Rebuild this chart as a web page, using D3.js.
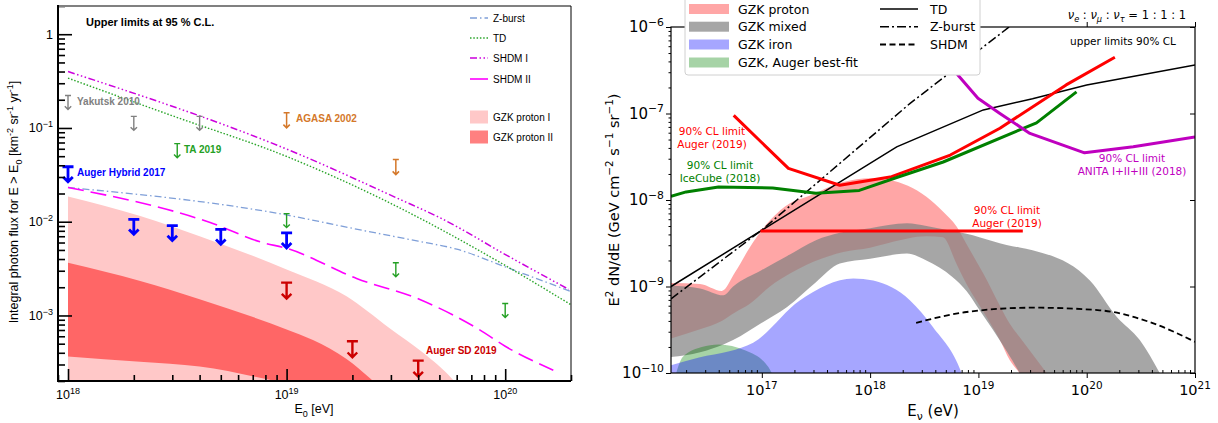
<!DOCTYPE html>
<html><head><meta charset="utf-8">
<script src="https://cdn.jsdelivr.net/npm/d3@7"></script>
<style>body{margin:0;background:#fff}svg{display:block}</style>
</head><body>
<svg id="c" width="1218" height="423"></svg>
<script>
// ================= LEFT PANEL DATA (integral photon flux) =================
const zburstE = [1e18, 1e19, 2e19, 4e19, 6e19, 1e20, 2e20];
const zburstF = [0.0232, 0.0118, 0.0085, 0.0062, 0.0051, 0.0033, 0.0018];
const tdE = [1e18, 3e18, 1e19, 2.75e19, 1.05e20, 2e20];
const tdF = [0.34, 0.135, 0.0497, 0.0173, 0.0032, 0.0013];
const shdm1E = [1e18, 1.15e19, 3.3e19, 5e19, 1.05e20, 1.95e20];
const shdm1F = [0.40, 0.052, 0.0173, 0.0111, 0.0042, 0.0019];
const shdm2E = [1e18, 4.47e18, 7.76e18, 1e19, 2.09e19, 4.07e19, 7.59e19, 1e20, 1.66e20];
const shdm2F = [0.0232, 0.0098, 0.0060, 0.0052, 0.00248, 0.00148, 0.00071, 0.00047, 0.00026];
const gzkP1E = [1e18, 2.14e18, 4e18, 1e19, 1.88e19, 2.95e19, 4.17e19, 5.75e19, 6.3e19];
const gzkP1Hi = [0.0186, 0.0115, 0.0070, 0.0031, 0.0016, 7.35e-4, 4.07e-4, 2.07e-4, 1.6e-4];
const gzkP2E = [1e18, 2.14e18, 4e18, 1e19, 1.32e19, 1.88e19, 2.4e19, 2.7e19];
const gzkP2Hi = [0.00365, 0.00233, 0.00149, 7.1e-4, 5.47e-4, 3.43e-4, 2.15e-4, 1.68e-4];
const gzkP2Lo = [3.66e-4, 3.2e-4, 2.85e-4, 1.9e-4, 1.7e-4, 1.4e-4, 1.2e-4, 1.1e-4];
// upper limits
const yakutskE = [1e18, 2e18, 4e18];       const yakutskF = [0.222, 0.133, 0.133];
const agasaE = [1e19, 3.16e19];            const agasaF = [0.145, 0.046];
const taE = [3.16e18, 1e19, 3.16e19, 1e20]; const taF = [0.068, 0.0122, 0.00365, 0.00134];
const hybE = [1e18, 2e18, 3e18, 5e18, 1e19]; const hybF = [0.0386, 0.0106, 0.0091, 0.0083, 0.0076];
const sdE = [1e19, 2e19, 4e19];            const sdF = [0.00224, 5.3e-4, 3.3e-4];
const leftXTicks = [1e18, 1e19, 1e20];
const leftXTickLabels = [["10","18"], ["10","19"], ["10","20"]];
const leftYTicks = [1e-3, 1e-2, 1e-1, 1];
const leftYTickLabels = [["10","−3"], ["10","−2"], ["10","−1"], ["1",""]];

// ================= RIGHT PANEL DATA (neutrino E^2 dN/dE) =================
const protonE  = [1.45e16, 2.69e16, 4.27e16, 5.66e16, 7.76e16, 1.19e17, 1.82e17, 2.6e17, 5.66e17, 1e18, 1.51e18, 3.31e18, 4.68e18, 6.31e18, 7.76e18, 1.11e19, 1.58e19, 1.95e19, 2.4e19, 4.27e19];
const protonHi = [1.10e-9, 1.07e-9, 8.9e-10, 1.46e-9, 2.84e-9, 5.83e-9, 9.2e-9, 1.09e-8, 1.62e-8, 1.79e-8, 1.70e-8, 1.09e-8, 7.4e-9, 4.9e-9, 3.1e-9, 1.41e-9, 6.0e-10, 3.7e-10, 2.6e-10, 1.0e-10];
const protonLo = [2.5e-10, 3.2e-10, 4.0e-10, 5.0e-10, 6.3e-10, 1.0e-9, 1.41e-9, 1.78e-9, 2.5e-9, 2.8e-9, 3.2e-9, 3.8e-9, 3.7e-9, 1.8e-9, 1.07e-9, 5.1e-10, 2.4e-10, 1.4e-10, 1.0e-10, 3.2e-11];
const mixedE  = [1.45e16, 2.69e16, 4.42e16, 5.43e16, 1e17, 1.70e17, 3.16e17, 5.25e17, 1e18, 2.19e18, 3.31e18, 5.75e18, 7.76e18, 1.02e19, 1.82e19, 2.4e19, 3.16e19, 1.07e20, 1.88e20, 3.09e20, 4.72e20];
const mixedHi = [1.02e-9, 9.5e-10, 7.9e-10, 1.0e-9, 1.55e-9, 2.24e-9, 3.43e-9, 4.17e-9, 4.72e-9, 5.37e-9, 5.0e-9, 4.37e-9, 4.07e-9, 3.72e-9, 3.02e-9, 2.82e-9, 2.63e-9, 1.17e-9, 4.5e-10, 2.4e-10, 1.0e-10];
const mixedLo = [1.53e-10, 1.74e-10, 2.14e-10, 2.4e-10, 3.8e-10, 5.75e-10, 1.12e-9, 1.84e-9, 2.09e-9, 2.4e-9, 2.0e-9, 1.29e-9, 8.9e-10, 5.4e-10, 1.8e-10, 1.0e-10, 5e-11, 1e-11, 1e-11, 1e-11, 1e-11];
const ironE  = [1.45e16, 2.63e16, 5.01e16, 8.32e16, 2.24e17, 7.0e17, 1.07e18, 2.34e18, 3.8e18, 7.0e18, 7.94e18];
const ironHi = [1.23e-10, 1.51e-10, 1.78e-10, 2.24e-10, 6.9e-10, 1.24e-9, 1.17e-9, 6.9e-10, 3.4e-10, 1.0e-10, 6.3e-11];
const augerFitE  = [1.58e16, 1.86e16, 2.79e16, 3.98e16, 7.08e16, 1.15e17, 1.29e17];
const augerFitHi = [8.9e-11, 1.53e-10, 2.0e-10, 2.14e-10, 1.82e-10, 1.17e-10, 8.9e-11];
const tdNuE = [1.45e16, 1.76e18, 1.11e19, 3.16e19, 1e20, 1e21];
const tdNuF = [1.0e-9, 4.12e-8, 1.10e-7, 1.48e-7, 2.14e-7, 3.63e-7];
const zbNuE = [1.45e16, 1e17, 2.34e18, 1.86e19, 2.5e19];
const zbNuF = [7.2e-10, 4.5e-9, 1.31e-7, 9.7e-7, 1.3e-6];
const shdmNuE = [2.66e18, 7.76e18, 3.2e19, 1.32e20, 3.8e20, 1e21];
const shdmNuF = [3.8e-10, 5.07e-10, 5.69e-10, 5.31e-10, 3.89e-10, 2.29e-10];
const augerLimE = [5.5e16, 1.76e17, 5.25e17, 1.58e18, 5.5e18, 1.58e19, 6.46e19, 1.82e20];
const augerLimF = [9.5e-8, 2.32e-8, 1.48e-8, 1.86e-8, 3.31e-8, 6.76e-8, 2.14e-7, 4.47e-7];
const augerFlatE = [9.7e16, 2.57e19];
const augerFlatF = [4.39e-9, 4.39e-9];
const icecubeE = [1.45e16, 2.0e16, 3.98e16, 1.26e17, 3.16e17, 7.94e17, 1.76e18, 4.73e18, 3.44e19, 8.05e19];
const icecubeF = [1.10e-8, 1.24e-8, 1.41e-8, 1.38e-8, 1.20e-8, 1.29e-8, 1.82e-8, 2.75e-8, 7.8e-8, 1.78e-7];
const anitaE = [5.8e18, 6.46e18, 9.9e18, 1.58e19, 2.99e19, 9.55e19, 2.69e20, 1e21];
const anitaF = [3.63e-7, 2.78e-7, 1.50e-7, 1.0e-7, 5.89e-8, 3.51e-8, 4.12e-8, 5.37e-8];
const rightXTicks = [1e17, 1e18, 1e19, 1e20, 1e21];
const rightXTickLabels = ["17", "18", "19", "20", "21"];
const rightYTicks = [1e-10, 1e-9, 1e-8, 1e-7, 1e-6];
const rightYTickLabels = ["−10", "−9", "−8", "−7", "−6"];

// ================= helpers =================
const svg = d3.select('#c');
function zip(E, F) { return E.map((e, i) => ({e, f: F[i]})); }
function zip3(E, H, L) { return E.map((e, i) => ({e, hi: H[i], lo: L ? L[i] : null})); }
function rich(sel, parts, size, scale = 0.7) {
  let cur = 0;
  parts.forEach(p => {
    const [t, kind, ital] = Array.isArray(p) ? p : [p, 'n'];
    const target = kind === 'sup' ? -0.42 * size : kind === 'sub' ? 0.28 * size : 0;
    const ts = sel.append('tspan').text(t).attr('dy', target - cur);
    if (kind !== 'n') ts.attr('font-size', size * scale);
    if (ital) ts.attr('font-style', 'italic');
    cur = target;
  });
  return sel;
}
function minorTicks(lo, hi) {
  const out = [];
  for (let d = Math.floor(Math.log10(lo)) ; d <= Math.ceil(Math.log10(hi)); d++)
    for (let k = 2; k <= 9; k++) { const v = k * Math.pow(10, d); if (v >= lo * 0.999 && v <= hi * 1.001) out.push(v); }
  return out;
}

// ================= LEFT PANEL =================
const L = {x0: 58, x1: 571, y0: 6, y1: 381};
const xL = d3.scaleLog().domain([9e17, 2e20]).range([L.x0, L.x1]);
const yL = d3.scaleLog().domain([2e-4, 2]).range([L.y1, L.y0]);
const gL = svg.append('g').attr('font-family', '"Liberation Sans", Arial, sans-serif');
svg.append('clipPath').attr('id', 'clipL').append('rect')
  .attr('x', L.x0).attr('y', L.y0).attr('width', L.x1 - L.x0).attr('height', L.y1 - L.y0);
const pL = gL.append('g').attr('clip-path', 'url(#clipL)');

pL.append('path').datum(zip3(gzkP1E, gzkP1Hi))
  .attr('d', d3.area().curve(d3.curveMonotoneX).x(d => xL(d.e)).y0(L.y1 + 5).y1(d => yL(d.hi)))
  .attr('fill', '#ffc8c8');
pL.append('path').datum(zip3(gzkP2E, gzkP2Hi, gzkP2Lo))
  .attr('d', d3.area().curve(d3.curveMonotoneX).x(d => xL(d.e)).y0(d => yL(d.lo)).y1(d => yL(d.hi)))
  .attr('fill', '#ff6666');

const lineL = d3.line().curve(d3.curveMonotoneX).x(d => xL(d.e)).y(d => yL(d.f));
const leftLines = [
  {E: zburstE, F: zburstF, color: '#7f9fd8', w: 1.3, dash: '7,3,1.5,3', name: 'Z-burst'},
  {E: tdE, F: tdF, color: '#2aa52a', w: 1.4, dash: '1.5,1.8', name: 'TD'},
  {E: shdm1E, F: shdm1F, color: '#cc00dd', w: 1.5, dash: '7,2.5,1.5,2.5,1.5,2.5,1.5,2.5', name: 'SHDM I'},
  {E: shdm2E, F: shdm2F, color: '#ff00ff', w: 1.6, dash: '16,7', name: 'SHDM II'}
];
leftLines.forEach(s => {
  pL.append('path').datum(zip(s.E, s.F)).attr('d', lineL)
    .attr('fill', 'none').attr('stroke', s.color).attr('stroke-width', s.w).attr('stroke-dasharray', s.dash);
});

function ulArrow(g, x, y, color, w, h, a, sw) {
  g.append('path')
    .attr('d', `M${x - w / 2},${y}H${x + w / 2}M${x},${y}V${y + h}M${x - a},${y + h - a}L${x},${y + h}L${x + a},${y + h - a}`)
    .attr('stroke', color).attr('stroke-width', sw).attr('fill', 'none');
}
const limitSets = [
  {E: yakutskE, F: yakutskF, c: '#808080', w: 6, h: 14, a: 3.2, sw: 1.4},
  {E: agasaE, F: agasaF, c: '#d4782a', w: 6, h: 15, a: 3.2, sw: 1.5},
  {E: taE, F: taF, c: '#24a024', w: 6, h: 14, a: 3.2, sw: 1.4},
  {E: hybE, F: hybF, c: '#0000ff', w: 11, h: 15, a: 4.8, sw: 2.8},
  {E: sdE, F: sdF, c: '#cc0000', w: 11, h: 16, a: 4.8, sw: 2.4}
];
limitSets.forEach(s => s.E.forEach((e, i) => ulArrow(gL, xL(e), yL(s.F[i]), s.c, s.w, s.h, s.a, s.sw)));

// labels
const boldLab = (x, y, t, c, fs = 10) => gL.append('text').attr('x', x).attr('y', y).attr('font-size', fs)
  .attr('font-weight', 'bold').attr('fill', c).text(t);
boldLab(86, 26, 'Upper limits at 95 % C.L.', '#000', 11);
boldLab(77, 105, 'Yakutsk 2010', '#808080');
boldLab(296, 122, 'AGASA 2002', '#d4782a');
boldLab(184, 153, 'TA 2019', '#24a024');
boldLab(77, 176, 'Auger Hybrid 2017', '#0000ff');
boldLab(426, 354, 'Auger SD 2019', '#cc0000');

// legend
const legL = gL.append('g').attr('font-size', 10);
leftLines.forEach((s, i) => {
  const y = [18, 38, 58, 79][i];
  legL.append('line').attr('x1', 470).attr('x2', 488).attr('y1', y).attr('y2', y)
    .attr('stroke', s.color).attr('stroke-width', s.w).attr('stroke-dasharray', s.name === 'SHDM II' ? null : s.dash);
  legL.append('text').attr('x', 493).attr('y', y + 3.5).text(s.name);
});
[['GZK proton I', '#ffc8c8', 117], ['GZK proton II', '#ff8080', 137]].forEach(([t, c, y]) => {
  legL.append('rect').attr('x', 470).attr('y', y - 6.5).attr('width', 18).attr('height', 13).attr('fill', c);
  legL.append('text').attr('x', 493).attr('y', y + 3.5).text(t);
});

// axes left
const axL = gL.append('g');
axL.append('g').attr('transform', `translate(${L.x0},0)`)
  .call(d3.axisRight(yL).tickValues(leftYTicks).tickSize(14).tickFormat(''))
  .call(g => g.selectAll('line').attr('stroke-width', 1.6));
axL.append('g').attr('transform', `translate(${L.x0},0)`)
  .call(d3.axisRight(yL).tickValues(minorTicks(2e-4, 2)).tickSize(7).tickFormat(''))
  .call(g => g.selectAll('line').attr('stroke-width', 1.6));
axL.append('g').attr('transform', `translate(0,${L.y1})`)
  .call(d3.axisTop(xL).tickValues(leftXTicks).tickSize(12).tickFormat(''))
  .call(g => g.selectAll('line').attr('stroke-width', 1.6));
axL.append('g').attr('transform', `translate(0,${L.y1})`)
  .call(d3.axisTop(xL).tickValues(minorTicks(9e17, 2e20)).tickSize(6).tickFormat(''))
  .call(g => g.selectAll('line').attr('stroke-width', 1.6));
axL.selectAll('.domain').remove();
// frame
gL.append('line').attr('x1', L.x0).attr('x2', L.x1).attr('y1', L.y0).attr('y2', L.y0).attr('stroke', '#808080').attr('stroke-width', 2);
gL.append('line').attr('x1', L.x1).attr('x2', L.x1).attr('y1', L.y0).attr('y2', L.y1).attr('stroke', '#000').attr('stroke-width', 1);
gL.append('line').attr('x1', L.x0).attr('x2', L.x0).attr('y1', L.y0 - 1).attr('y2', L.y1 + 1).attr('stroke', '#000').attr('stroke-width', 2);
gL.append('line').attr('x1', L.x0 - 1).attr('x2', L.x1).attr('y1', L.y1).attr('y2', L.y1).attr('stroke', '#000').attr('stroke-width', 2);
// tick labels
leftYTicks.forEach((v, i) => {
  const t = gL.append('text').attr('x', 53).attr('y', yL(v) + 4.5).attr('text-anchor', 'end').attr('font-size', 12.5);
  const [b, s] = leftYTickLabels[i];
  rich(t, s ? [b, [s, 'sup']] : [b], 12.5, 0.72);
});
leftXTicks.forEach((v, i) => {
  const t = gL.append('text').attr('x', xL(v)).attr('y', 399).attr('text-anchor', 'middle').attr('font-size', 12.5);
  rich(t, [leftXTickLabels[i][0], [leftXTickLabels[i][1], 'sup']], 12.5, 0.72);
});
rich(gL.append('text').attr('x', 314).attr('y', 413).attr('text-anchor', 'middle').attr('font-size', 12.5),
  ['E', ['0', 'sub'], ' [eV]'], 12.5, 0.72);
rich(gL.append('text').attr('transform', 'translate(18,202) rotate(-90)').attr('text-anchor', 'middle').attr('font-size', 12.5),
  ['Integral photon flux for E > E', ['0', 'sub'], ' [km', ['-2', 'sup'], ' sr', ['-1', 'sup'], ' yr', ['-1', 'sup'], ']'], 12.5, 0.72);

// ================= RIGHT PANEL =================
const R = {x0: 671, x1: 1195, y0: 27, y1: 373};
const xR = d3.scaleLog().domain([1.45e16, 1e21]).range([R.x0, R.x1]);
const yR = d3.scaleLog().domain([1e-10, 1e-6]).range([R.y1, R.y0]);
const gR = svg.append('g').attr('font-family', '"DejaVu Sans", sans-serif');
svg.append('clipPath').attr('id', 'clipR').append('rect')
  .attr('x', R.x0).attr('y', R.y0).attr('width', R.x1 - R.x0).attr('height', R.y1 - R.y0);
const pR = gR.append('g').attr('clip-path', 'url(#clipR)');
const areaR = d3.area().curve(d3.curveMonotoneX).x(d => xR(d.e)).y0(d => d.lo == null ? R.y1 + 5 : yR(d.lo)).y1(d => yR(d.hi));
pR.append('path').datum(zip3(protonE, protonHi, protonLo)).attr('d', areaR).attr('fill', 'red').attr('fill-opacity', 0.35);
pR.append('path').datum(zip3(mixedE, mixedHi, mixedLo)).attr('d', areaR).attr('fill', 'gray').attr('fill-opacity', 0.7);
pR.append('path').datum(zip3(augerFitE, augerFitHi)).attr('d', areaR).attr('fill', 'green').attr('fill-opacity', 0.35);
pR.append('path').datum(zip3(ironE, ironHi)).attr('d', areaR).attr('fill', 'blue').attr('fill-opacity', 0.35);

const lineStraight = d3.line().x(d => xR(d.e)).y(d => yR(d.f));
const lineSmooth = d3.line().curve(d3.curveMonotoneX).x(d => xR(d.e)).y(d => yR(d.f));
const modelLines = [
  {E: tdNuE, F: tdNuF, dash: null, w: 1.5, name: 'TD', gen: lineStraight},
  {E: zbNuE, F: zbNuF, dash: '9,3,2,3', w: 1.5, name: 'Z-burst', gen: lineStraight},
  {E: shdmNuE, F: shdmNuF, dash: '6,3.5', w: 1.8, name: 'SHDM', gen: lineSmooth}
];
modelLines.forEach(s => pR.append('path').datum(zip(s.E, s.F)).attr('d', s.gen)
  .attr('fill', 'none').attr('stroke', '#000').attr('stroke-width', s.w).attr('stroke-dasharray', s.dash));
[[augerLimE, augerLimF, 'red'], [augerFlatE, augerFlatF, 'red'], [icecubeE, icecubeF, 'green'], [anitaE, anitaF, '#bf00bf']]
  .forEach(([E, F, c]) => pR.append('path').datum(zip(E, F)).attr('d', lineStraight)
    .attr('fill', 'none').attr('stroke', c).attr('stroke-width', 3).attr('stroke-linejoin', 'round'));

// annotations
function note(x, y, lines, c, size = 10.5) {
  lines.forEach((t, i) => gR.append('text').attr('x', x).attr('y', y + i * 12.7).attr('text-anchor', 'middle')
    .attr('font-size', size).attr('fill', c).text(t));
}
note(712, 135, ['90% CL limit', 'Auger (2019)'], 'red');
note(720, 169, ['90% CL limit', 'IceCube (2018)'], 'green');
note(1007, 214, ['90% CL limit', 'Auger (2019)'], 'red');
note(1132, 162, ['90% CL limit', 'ANITA I+II+III (2018)'], '#bf00bf');
note(1123, 45, ['upper limits 90% CL'], '#000');
rich(gR.append('text').attr('x', 1186).attr('y', 19).attr('text-anchor', 'end').attr('font-size', 11.5),
  [['ν', 'n', true], ['e', 'sub', true], ' : ', ['ν', 'n', true], ['μ', 'sub', true], ' : ', ['ν', 'n', true], ['τ', 'sub', true], ' = 1 : 1 : 1'], 11.5, 0.72);

// axes right
const axR = gR.append('g');
axR.append('g').attr('transform', `translate(${R.x0},0)`)
  .call(d3.axisLeft(yR).tickValues(rightYTicks).tickSize(5).tickFormat(''));
axR.append('g').attr('transform', `translate(${R.x0},0)`)
  .call(d3.axisLeft(yR).tickValues(minorTicks(1e-10, 1e-6)).tickSize(2.5).tickFormat(''));
axR.append('g').attr('transform', `translate(0,${R.y1})`)
  .call(d3.axisBottom(xR).tickValues(rightXTicks).tickSize(5).tickFormat(''));
axR.append('g').attr('transform', `translate(0,${R.y1})`)
  .call(d3.axisTop(xR).tickValues(minorTicks(1.45e16, 1e21)).tickSize(3).tickFormat(''));
axR.append('g').attr('transform', `translate(${R.x1},0)`)
  .call(d3.axisLeft(yR).tickValues(rightYTicks).tickSize(5).tickFormat(''));
axR.append('g').attr('transform', `translate(0,${R.y0})`)
  .call(d3.axisTop(xR).tickValues(rightXTicks).tickSize(5).tickFormat(''));
axR.selectAll('.domain').remove();
axR.selectAll('line').attr('stroke-width', 1);
gR.append('rect').attr('x', R.x0).attr('y', R.y0).attr('width', R.x1 - R.x0).attr('height', R.y1 - R.y0)
  .attr('fill', 'none').attr('stroke', '#000').attr('stroke-width', 1.2);

rightYTicks.forEach((v, i) => rich(gR.append('text').attr('x', 664).attr('y', yR(v) + 5).attr('text-anchor', 'end').attr('font-size', 15),
  ['10', [rightYTickLabels[i], 'sup']], 15, 0.72));
rightXTicks.forEach((v, i) => rich(gR.append('text').attr('x', xR(v)).attr('y', 395).attr('text-anchor', 'middle').attr('font-size', 14.5),
  ['10', [rightXTickLabels[i], 'sup']], 14.5, 0.72));
rich(gR.append('text').attr('x', 933).attr('y', 416).attr('text-anchor', 'middle').attr('font-size', 15),
  ['E', ['ν', 'sub'], ' (eV)'], 15, 0.72);
rich(gR.append('text').attr('transform', 'translate(619,200) rotate(-90)').attr('text-anchor', 'middle').attr('font-size', 14.5),
  ['E', ['2', 'sup'], ' dN/dE (GeV cm', ['−2', 'sup'], ' s', ['−1', 'sup'], ' sr', ['−1', 'sup'], ')'], 14.5, 0.72);

// legend right
const legR = gR.append('g').attr('font-size', 12.5);
legR.append('rect').attr('x', 685).attr('y', -6).attr('width', 295).attr('height', 81).attr('rx', 3)
  .attr('fill', '#fff').attr('stroke', '#d0d0d0');
[['GZK proton', 'red', 0.35], ['GZK mixed', 'gray', 0.7], ['GZK iron', 'blue', 0.35], ['GZK, Auger best-fit', 'green', 0.35]]
  .forEach(([t, c, o], i) => {
    const y = [9, 26.7, 44.5, 62.5][i];
    legR.append('rect').attr('x', 689).attr('y', y - 5).attr('width', 40).attr('height', 10).attr('fill', c).attr('fill-opacity', o);
    legR.append('text').attr('x', 738).attr('y', y + 4.5).text(t);
  });
modelLines.forEach((s, i) => {
  const y = [9, 26.7, 44.5][i];
  legR.append('line').attr('x1', 880).attr('x2', 918).attr('y1', y).attr('y2', y)
    .attr('stroke', '#000').attr('stroke-width', s.w).attr('stroke-dasharray', s.dash);
  legR.append('text').attr('x', 930).attr('y', y + 4.5).text(s.name);
});
</script>
</body></html>
